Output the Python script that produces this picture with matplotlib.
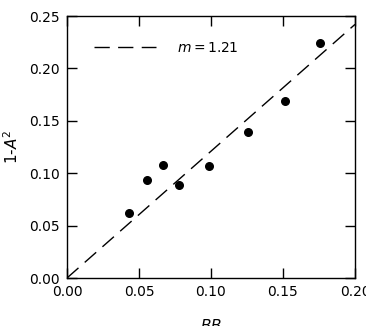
import matplotlib
matplotlib.use("Agg")
import matplotlib.pyplot as plt
import numpy as np

x_vals = [0.0433, 0.0553, 0.0669, 0.0778, 0.0988, 0.1257, 0.1516, 0.1759]
y_vals = [0.062, 0.0938, 0.108, 0.0885, 0.107, 0.1396, 0.169, 0.2242]
slope = 1.21
xticks = [0.00, 0.05, 0.10, 0.15, 0.20]
yticks = [0.00, 0.05, 0.10, 0.15, 0.20, 0.25]

fig = plt.figure(figsize=(3.66, 3.26), dpi=100)
ax = fig.add_axes([67/366, 1-278/326, 288/366, 262/326])

xl = np.array([0.0, 0.2])
ax.plot(xl, slope*xl, color='black', lw=1.0, dashes=(11, 6), label=r'$m=%.2f$' % slope)
ax.scatter(x_vals, y_vals, s=30, color='black', zorder=3)

ax.set_xlim(0, 0.2)
ax.set_ylim(0, 0.25)
ax.set_xticks(xticks)
ax.set_yticks(yticks)
ax.set_xticklabels(['%.2f' % v for v in xticks])
ax.set_yticklabels(['%.2f' % v for v in yticks])
ax.tick_params(direction='in', length=7, width=1, top=True, right=True, labelsize=10, pad=5)
for s in ax.spines.values():
    s.set_linewidth(1)

ax.set_ylabel(r'1-$A^2$', fontsize=11, labelpad=6)
ax.set_xlabel(r'$BB$', fontsize=11, labelpad=14)

ax.legend(loc='upper left', frameon=False, handlelength=4.5, handletextpad=1.5, fontsize=10,
          bbox_to_anchor=(0.074, 0.925), borderaxespad=0)

fig.savefig('out.png', dpi=100)
